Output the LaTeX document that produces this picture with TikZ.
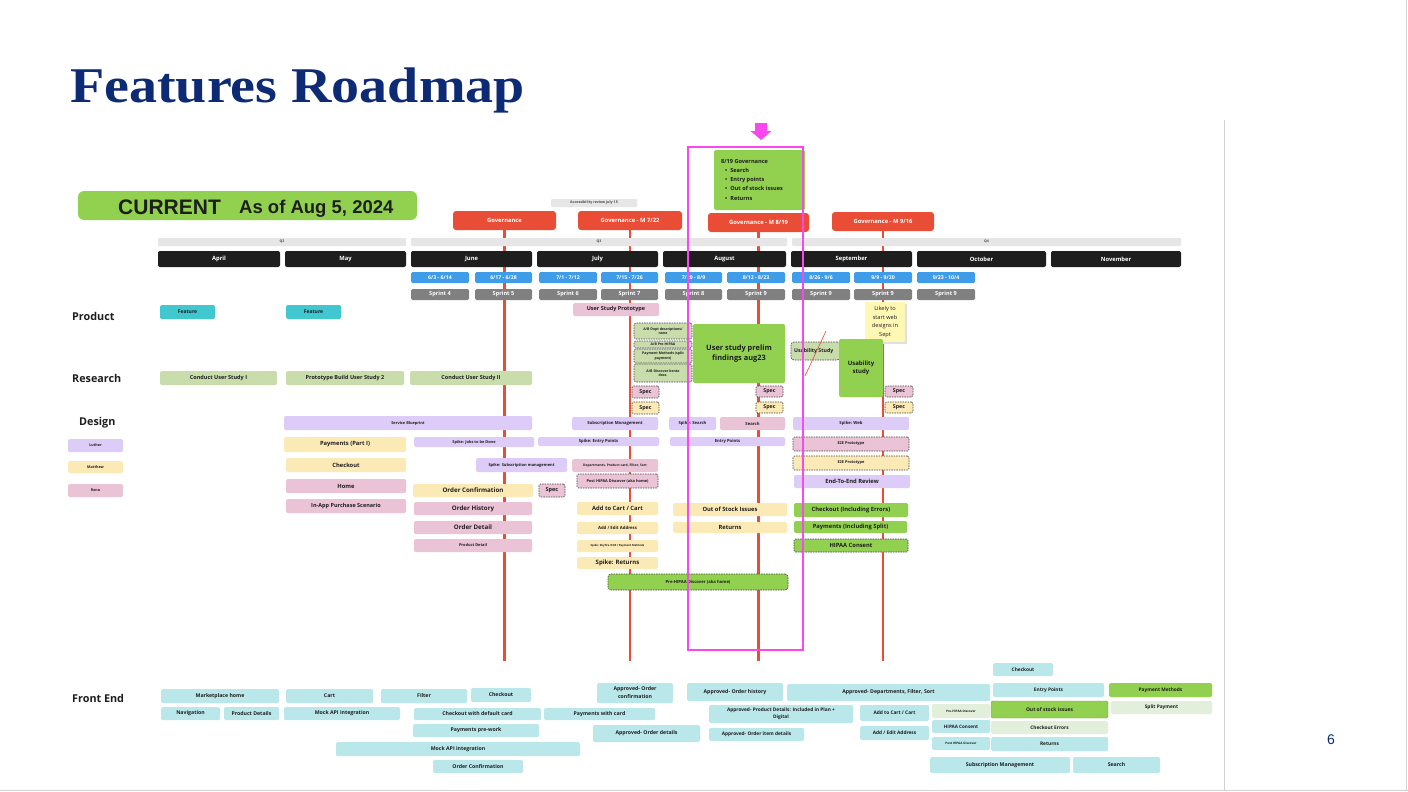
\documentclass[tikz,border=0pt]{standalone}
\usepackage{fontspec}
\usepackage{graphicx}
\setmainfont{Liberation Serif}
\setsansfont{Open Sans}
\newfontfamily\arialf{Liberation Sans}
\definecolor{ctitle}{RGB}{13,43,117}
\definecolor{cgov}{RGB}{234,77,53}
\definecolor{cmon}{RGB}{30,30,30}
\definecolor{cdate}{RGB}{62,156,232}
\definecolor{cspr}{RGB}{128,128,128}
\definecolor{cq}{RGB}{230,230,230}
\definecolor{cfeat}{RGB}{64,199,208}
\definecolor{cres}{RGB}{200,220,172}
\definecolor{clav}{RGB}{220,204,247}
\definecolor{cpnk}{RGB}{234,196,214}
\definecolor{cylw}{RGB}{252,234,182}
\definecolor{cgrn}{RGB}{146,208,80}
\definecolor{cfe}{RGB}{186,231,234}
\definecolor{clgr}{RGB}{226,239,218}
\definecolor{csticky}{RGB}{255,248,180}
\definecolor{cmag}{RGB}{250,72,240}
\definecolor{cdash}{RGB}{70,70,70}
\definecolor{ctext}{RGB}{30,30,30}
\definecolor{cframe}{RGB}{210,210,210}
\newcommand\bx[7]{\node[box,#6,minimum width={#4pt-#2pt},minimum height={#5pt-#3pt}] (#1) at ({(#2+#4)/2},{(#3+#5)/2}) {#7};}
\begin{document}
\begin{tikzpicture}[x=1pt,y=-1pt,
  f/.style={font=\sffamily\bfseries\fontsize{#1}{#1}\selectfont},
  box/.style={rectangle,rounded corners=1.5pt,inner sep=0pt,outer sep=0pt,align=center,text=ctext,f=5},
  gov/.style={fill=cgov,text=white,rounded corners=3pt,f=5.8},
  mon/.style={fill=cmon,text=white,rounded corners=2pt,f=5.8},
  dat/.style={fill=cdate,text=white,rounded corners=1.5pt,f=5.2},
  spr/.style={fill=cspr,text=white,rounded corners=1.5pt,f=5.6},
  qtr/.style={fill=cq,text=black!70,rounded corners=1pt,f=3.5},
  feat/.style={fill=cfeat,f=5},
  res/.style={fill=cres,f=5.5},
  lav/.style={fill=clav,f=4.2},
  pnk/.style={fill=cpnk,f=4.2},
  ylw/.style={fill=cylw,f=5.8},
  grnb/.style={fill=cgrn,f=5.8},
  fec/.style={fill=cfe,f=5.2},
  lgr/.style={fill=clgr,f=5.2},
  dsh/.style={draw=cdash,dash pattern=on 1.5pt off 1pt,line width=0.6pt},
  rowlab/.style={anchor=west,inner sep=0pt,text=ctext,font=\sffamily\bfseries\fontsize{10.8}{10.8}\selectfont},
  redline/.style={draw=cgov,line width=2.4pt}
]
\useasboundingbox (0,0) rectangle (1408,792);
\fill[white] (0,0) rectangle (1408,792);
% frame
\draw[cframe,line width=1pt] (0,790) -- (1408,790);
\draw[cframe,line width=1pt] (1406,0) -- (1406,790);
\draw[cframe,line width=1pt] (1224,120) -- (1224,790);

% title
\node[anchor=base west,inner sep=0pt,text=ctitle,font=\rmfamily\bfseries\fontsize{50}{50}\selectfont] (title) at (70,102) {\scalebox{1.12}[1]{Features Roadmap}};
\node[anchor=center,inner sep=0pt,text=ctitle,font=\arialf\fontsize{14}{14}\selectfont] (pnum) at (1331,740) {6};

% governance boxes and red lines
\bx{g1}{453}{211}{556}{230}{gov}{Governance}
\bx{g2}{578}{211}{682}{230}{gov}{Governance - M 7/22}
\bx{g3}{708}{213}{809}{232}{gov}{Governance - M 8/19}
\bx{g4}{832}{212}{934}{231}{gov}{Governance - M 9/16}
\coordinate (e1) at (504.5,661);
\coordinate (e2) at (630,661);
\coordinate (e3) at (758.5,661);
\coordinate (e4) at (883,661);
\draw[redline] (g1.south) -- (e1);
\draw[redline] (g2.south) -- (e2);
\draw[redline] (g3.south) -- (e3);
\draw[redline] (g4.south) -- (e4);

% CURRENT
\bx{cur}{78}{191}{417}{220}{fill=cgrn,rounded corners=6pt}{}
\node[anchor=base west,inner sep=0pt,text=ctext,font=\arialf\bfseries\fontsize{21}{21}\selectfont] (curt) at (118,214) {CURRENT};
\node[anchor=base west,inner sep=0pt,text=ctext,font=\arialf\bfseries\fontsize{18.5}{18.5}\selectfont] (asof) at (239,213) {As of Aug 5, 2024};

\bx{acc}{551}{199}{637}{207}{qtr,f=3.6}{Accessibility review july 15}

% 8/19 governance
\bx{g819}{714}{150}{805}{210}{grnb}{}
\node[anchor=north west,inner sep=0pt,align=left,text=ctext,font=\sffamily\bfseries\fontsize{5.6}{9.2}\selectfont] (g819t) at (721,159)
 {8/19 Governance\\\hspace*{4pt}\textbullet\hspace{3pt}Search\\\hspace*{4pt}\textbullet\hspace{3pt}Entry points\\\hspace*{4pt}\textbullet\hspace{3pt}Out of stock issues\\\hspace*{4pt}\textbullet\hspace{3pt}Returns};

% quarters
\bx{q2}{158}{238}{406}{246}{qtr}{Q2}
\bx{q3}{411}{238}{787}{246}{qtr}{Q3}
\bx{q4}{792}{238}{1181}{246}{qtr}{Q4}
% months
\bx{m1}{158}{251}{280}{267}{mon}{April}
\bx{m2}{285}{251}{406}{267}{mon}{May}
\bx{m3}{411}{251}{532}{267}{mon}{June}
\bx{m4}{537}{251}{658}{267}{mon}{July}
\bx{m5}{663}{251}{786}{267}{mon}{August}
\bx{m6}{791}{251}{912}{267}{mon}{September}
\bx{m7}{917}{251}{1046}{267}{mon}{October}
\bx{m8}{1051}{251}{1181}{267}{mon}{November}
% dates
\bx{d01}{411}{272}{469}{283}{dat}{6/3 - 6/14}
\bx{d02}{475}{272}{532}{283}{dat}{6/17 - 6/28}
\bx{d03}{539}{272}{597}{283}{dat}{7/1 - 7/12}
\bx{d04}{601}{272}{658}{283}{dat}{7/15 - 7/26}
\bx{d05}{665}{272}{722}{283}{dat}{7/29 - 8/9}
\bx{d06}{727}{272}{785}{283}{dat}{8/12 - 8/23}
\bx{d07}{792}{272}{850}{283}{dat}{8/26 - 9/6}
\bx{d08}{854}{272}{912}{283}{dat}{9/9 - 9/20}
\bx{d09}{917}{272}{975}{283}{dat}{9/23 - 10/4}
% sprints
\bx{s01}{411}{289}{469}{300}{spr}{Sprint 4}
\bx{s02}{475}{289}{532}{300}{spr}{Sprint 5}
\bx{s03}{539}{289}{597}{300}{spr}{Sprint 6}
\bx{s04}{601}{289}{658}{300}{spr}{Sprint 7}
\bx{s05}{665}{289}{722}{300}{spr}{Sprint 8}
\bx{s06}{727}{289}{785}{300}{spr}{Sprint 9}
\bx{s07}{792}{289}{850}{300}{spr}{Sprint 9}
\bx{s08}{854}{289}{912}{300}{spr}{Sprint 9}
\bx{s09}{917}{289}{975}{300}{spr}{Sprint 9}

% row labels
\node[rowlab] (lprod) at (72,316) {Product};
\node[rowlab] (lres) at (72,378) {Research};
\node[rowlab] (ldes) at (79,423) {Design};
\node[rowlab] (lfe) at (72,698) {Front End};

% product
\bx{p1}{160}{305}{215}{319}{feat}{Feature}
\bx{p2}{286}{305}{341}{319}{feat}{Feature}
\bx{p3}{573}{303}{659}{316}{pnk,f=5.5}{User Study Prototype}

% sticky
\fill[black!12] (866.5,303.5) rectangle (906.5,343.5);
\bx{stk}{865}{302}{905}{342}{fill=csticky,rounded corners=0pt,font=\sffamily\fontsize{5.6}{8.7}\selectfont}{Likely to\\start web\\designs in\\Sept}

% research
\bx{r1}{160}{371}{277}{385}{res}{Conduct User Study I}
\bx{r2}{286}{371}{404}{385}{res}{Prototype Build User Study 2}
\bx{r3}{410}{371}{532}{385}{res}{Conduct User Study II}
\bx{a1}{634}{323}{692}{339}{res,dsh,font=\sffamily\bfseries\fontsize{3.5}{4.6}\selectfont}{A/B Dept descriptions/\\none}
\bx{a2}{634}{341}{692}{348}{res,dsh,f=3.5}{A/B Pre-HIPAA}
\bx{a3}{634}{349}{692}{363}{res,dsh,font=\sffamily\bfseries\fontsize{3.5}{4.6}\selectfont}{Payment Methods (split\\payment)}
\bx{a4}{634}{364}{692}{382}{res,dsh,font=\sffamily\bfseries\fontsize{3.5}{4.6}\selectfont}{A/B Discover bento\\docs.}
\bx{usp}{693}{324}{785}{383}{grnb,font=\sffamily\bfseries\fontsize{7.4}{9.6}\selectfont}{User study prelim\\findings aug23}
\bx{ust}{791}{342}{840}{360}{res,dsh,rounded corners=3pt}{}
\node[anchor=west,inner sep=0pt,text=ctext,f=5.2] (ustt) at (794,351) {Usability Study};
\bx{usb}{839}{339}{883}{397}{grnb,font=\sffamily\bfseries\fontsize{6}{8.2}\selectfont}{Usability\\study}
\coordinate (x1) at (826,331);
\coordinate (x2) at (805,376);
\draw[cgov,line width=0.6pt] (x1) -- (x2);

% spec boxes
\bx{sp1}{632}{386}{659}{398}{pnk,dsh,f=5.3}{Spec}
\bx{sp2}{632}{402}{659}{414}{ylw,dsh,f=5.3}{Spec}
\bx{sp3}{756}{386}{783}{397}{pnk,dsh,f=5.3}{Spec}
\bx{sp4}{756}{402}{783}{413}{ylw,dsh,f=5.3}{Spec}
\bx{sp5}{885}{386}{913}{397}{pnk,dsh,f=5.3}{Spec}
\bx{sp6}{885}{402}{913}{413}{ylw,dsh,f=5.3}{Spec}

% design
\bx{sb}{284}{416}{532}{430}{lav,f=3.9}{Service Blueprint}
\bx{lg1}{68}{439}{123}{452}{lav,f=3.7}{Luther}
\bx{lg2}{68}{461}{123}{473}{ylw,f=3.7}{Matthew}
\bx{lg3}{68}{484}{123}{497}{pnk,f=3.7}{Reno}
\bx{de1}{284}{437}{406}{452}{ylw}{Payments (Part I)}
\bx{de2}{286}{458}{406}{472}{ylw}{Checkout}
\bx{de3}{286}{479}{406}{493}{pnk,f=5.8}{Home}
\bx{de4}{286}{499}{406}{513}{pnk,f=5.5}{In-App Purchase Scenario}
\bx{de5}{414}{437}{534}{447}{lav,f=3.9}{Spike: Jobs to be Done}
\bx{de6}{476}{458}{567}{472}{lav,f=4}{Spike: Subscription management}
\bx{de7}{413}{484}{533}{497}{ylw,f=6.2}{Order Confirmation}
\bx{de8}{539}{484}{565}{497}{pnk,dsh,f=5.5}{Spec}
\bx{de9}{414}{502}{532}{515}{pnk,f=6.2}{Order History}
\bx{de10}{414}{521}{532}{534}{pnk,f=6.2}{Order Detail}
\bx{de11}{414}{539}{532}{552}{pnk,f=3.9}{Product Detail}
\bx{de12}{572}{417}{658}{430}{lav}{Subscription Management}
\bx{de13}{669}{417}{716}{430}{lav}{Spike: Search}
\bx{de14}{720}{417}{785}{430}{pnk}{Search}
\bx{de15}{793}{417}{909}{430}{lav}{Spike: Web}
\bx{de16}{538}{437}{659}{446}{lav}{Spike: Entry Points}
\bx{de17}{670}{437}{785}{446}{lav}{Entry Points}
\bx{de18}{793}{437}{909}{451}{pnk,dsh,f=3.9}{E2E Prototype}
\bx{de19}{793}{456}{909}{470}{ylw,dsh,f=3.9}{E2E Prototype}
\bx{de20}{572}{459}{658}{472}{pnk,f=3.3}{Departments, Product card, Filter, Sort}
\bx{de21}{577}{474}{658}{488}{pnk,dsh,f=3.9}{Post HIPAA Discover (aka home)}
\bx{de22}{794}{475}{910}{488}{lav,f=5.8}{End-To-End Review}
\bx{de23}{577}{502}{658}{515}{ylw}{Add to Cart / Cart}
\bx{de24}{673}{503}{787}{516}{ylw}{Out of Stock Issues}
\bx{de25}{794}{503}{908}{517}{grnb}{Checkout (Including Errors)}
\bx{de26}{577}{522}{658}{534}{ylw,f=4.3}{Add / Edit Address}
\bx{de27}{673}{522}{787}{533}{ylw}{Returns}
\bx{de28}{794}{521}{907}{533}{grnb}{Payments (Including Split)}
\bx{de29}{577}{540}{658}{552}{ylw,f=2.8}{Spike: Skyfire OOS / Payment Methods}
\bx{de30}{794}{539}{908}{552}{grnb,dsh}{HIPAA Consent}
\bx{de31}{577}{557}{658}{569}{ylw,f=6}{Spike: Returns}
\bx{de32}{608}{574}{788}{590}{grnb,dsh,f=4.2,rounded corners=3pt}{Pre-HIPAA Discover (aka home)}

% front end
\bx{fe1}{161}{689}{279}{703}{fec}{Marketplace home}
\bx{fe2}{286}{689}{373}{703}{fec}{Cart}
\bx{fe3}{381}{689}{467}{703}{fec}{Filter}
\bx{fe4}{471}{688}{531}{702}{fec}{Checkout}
\bx{fe5}{161}{707}{220}{720}{fec}{Navigation}
\bx{fe6}{224}{707}{279}{720}{fec}{Product Details}
\bx{fe7}{284}{707}{400}{720}{fec}{Mock API integration}
\bx{fe8}{414}{708}{541}{720}{fec}{Checkout with default card}
\bx{fe9}{544}{708}{655}{720}{fec}{Payments with card}
\bx{fe10}{413}{724}{539}{737}{fec}{Payments pre-work}
\bx{fe11}{336}{742}{580}{756}{fec}{Mock API integration}
\bx{fe12}{433}{760}{523}{773}{fec}{Order Confirmation}
\bx{fe13}{597}{683}{673}{703}{fec,font=\sffamily\bfseries\fontsize{5.2}{8}\selectfont}{Approved- Order\\confirmation}
\bx{fe14}{687}{683}{783}{701}{fec}{Approved- Order history}
\bx{fe15}{787}{684}{990}{701}{fec}{Approved- Departments, Filter, Sort}
\bx{fe16}{993}{663}{1053}{676}{fec,f=4.8}{Checkout}
\bx{fe17}{993}{683}{1104}{697}{fec,f=4.8}{Entry Points}
\bx{fe18}{1109}{683}{1212}{697}{grnb,f=4.8}{Payment Methods}
\bx{fe19}{709}{705}{853}{723}{fec,font=\sffamily\bfseries\fontsize{4.8}{7.4}\selectfont}{Approved- Product Details: Included in Plan +\\Digital}
\bx{fe20}{860}{705}{929}{721}{fec,f=4.8}{Add to Cart / Cart}
\bx{fe21}{932}{704}{990}{718}{lgr,f=3.1}{Pre-HIPAA Discover}
\bx{fe22}{991}{701}{1108}{718}{grnb,draw=cgrn!80!black,line width=0.4pt,f=5}{Out of stock issues}
\bx{fe23}{1111}{701}{1212}{714}{lgr,f=4.8}{Split Payment}
\bx{fe24}{593}{725}{700}{742}{fec}{Approved- Order details}
\bx{fe25}{709}{728}{804}{741}{fec,f=4.8}{Approved- Order item details}
\bx{fe26}{860}{726}{929}{740}{fec,f=4.8}{Add / Edit Address}
\bx{fe27}{932}{720}{990}{733}{fec,f=4.6}{HIPAA Consent}
\bx{fe28}{991}{721}{1108}{734}{lgr,f=4.8}{Checkout Errors}
\bx{fe29}{932}{737}{990}{750}{fec,f=3.1}{Post HIPAA Discover}
\bx{fe30}{991}{737}{1108}{751}{fec,f=4.8}{Returns}
\bx{fe31}{930}{757}{1070}{773}{fec}{Subscription Management}
\bx{fe32}{1073}{757}{1160}{773}{fec}{Search}

% magenta highlight
\draw[cmag,line width=2.4pt] (688,147) rectangle (803,650);
\fill[cmag] (755,123) -- (767,123) -- (767,131) -- (771.5,131) -- (761,140) -- (750.5,131) -- (755,131) -- cycle;
\end{tikzpicture}
\end{document}
